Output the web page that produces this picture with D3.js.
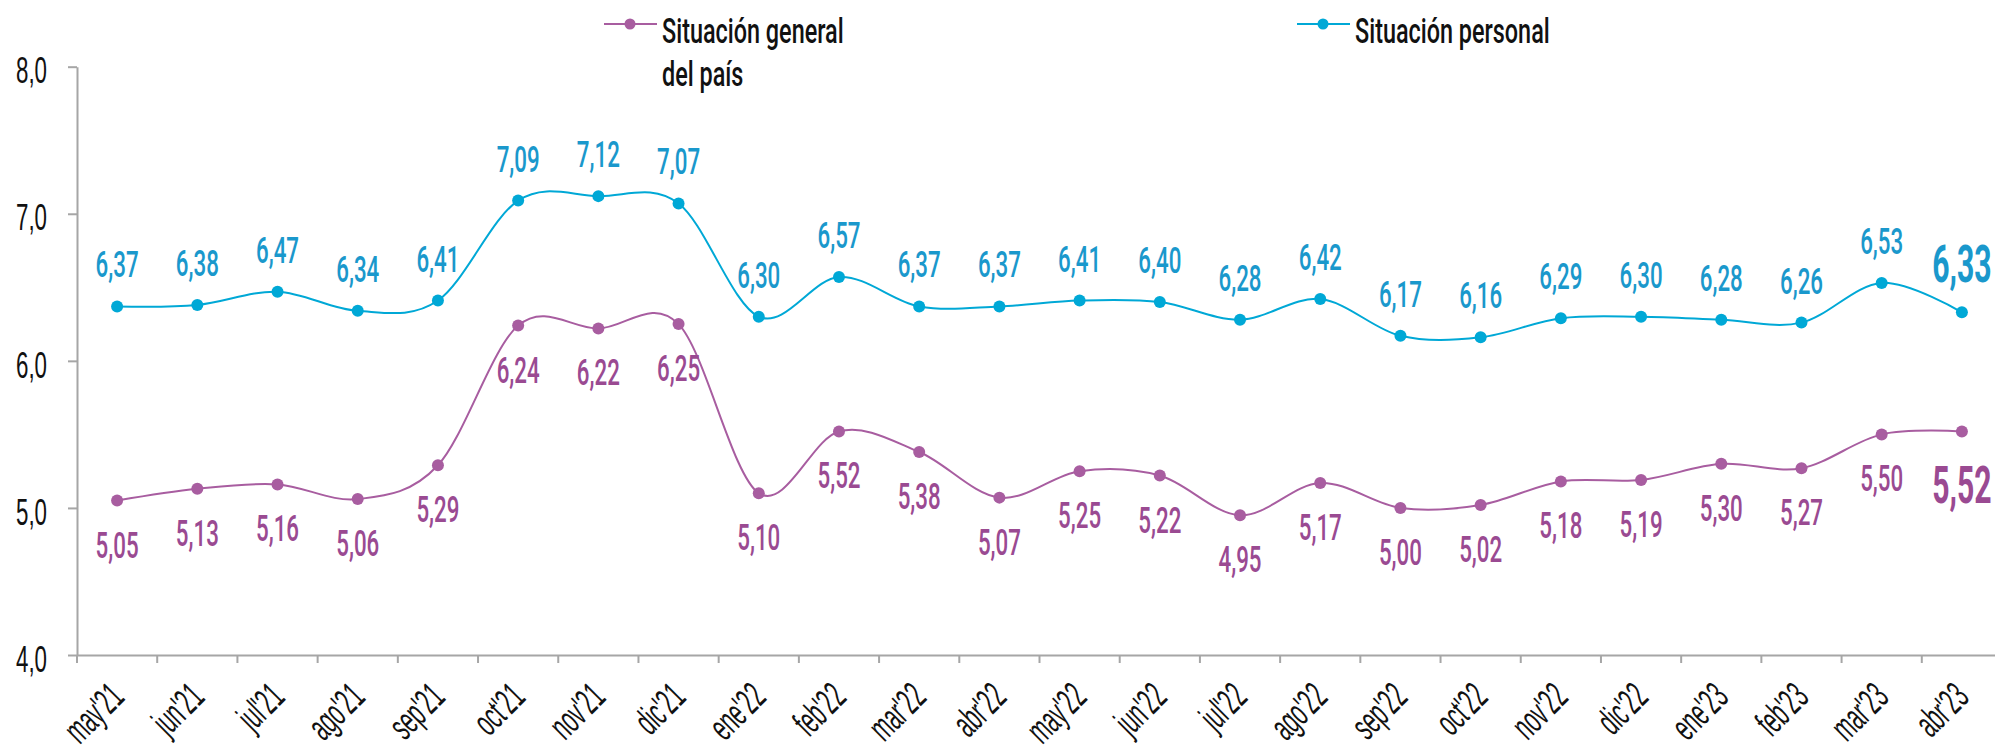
<!DOCTYPE html>
<html>
<head>
<meta charset="utf-8">
<script src="https://cdn.jsdelivr.net/npm/d3@7"></script>
<style>
  html, body { margin: 0; padding: 0; background: #fff; }
  svg { display: block; font-family: Roboto, 'Liberation Sans', sans-serif; }
</style>
</head>
<body>
<svg id="chart" width="1995" height="751"></svg>
<script>
const months = ["may'21", "jun'21", "jul'21", "ago'21", "sep'21", "oct'21", "nov'21", "dic'21",
  "ene'22", "feb'22", "mar'22", "abr'22", "may'22", "jun'22", "jul'22", "ago'22", "sep'22",
  "oct'22", "nov'22", "dic'22", "ene'23", "feb'23", "mar'23", "abr'23"]
const personal = [6.37, 6.38, 6.47, 6.34, 6.41, 7.09, 7.12, 7.07, 6.30, 6.57, 6.37, 6.37,
  6.41, 6.40, 6.28, 6.42, 6.17, 6.16, 6.29, 6.30, 6.28, 6.26, 6.53, 6.33]
const general = [5.05, 5.13, 5.16, 5.06, 5.29, 6.24, 6.22, 6.25, 5.10, 5.52, 5.38, 5.07,
  5.25, 5.22, 4.95, 5.17, 5.00, 5.02, 5.18, 5.19, 5.30, 5.27, 5.50, 5.52]
const yTicks = [4, 5, 6, 7, 8]
const seriesNames = ['Situación general|del país', 'Situación personal']

const blue = '#00a8d6'
const blueText = '#1a98cc'
const purple = '#a85da0'
const purpleText = '#9a4a92'
const axisGrey = '#a6a6a6'
const squeeze = 'scale(0.62,1)'

const fmt = (v) => v.toFixed(2).replace('.', ',')

const svg = d3.select('#chart')

const x = d3.scaleBand().domain(months).range([77, 2002])
const y = d3.scaleLinear().domain([4, 8]).range([655, 66.7])
const cx = (i) => x(months[i]) + x.bandwidth() / 2

// y axis
const yAxis = svg.append('g')
  .attr('transform', 'translate(77,0)')
  .call(d3.axisLeft(y).tickValues(yTicks).tickSize(9).tickSizeOuter(0)
    .tickFormat((d) => d.toFixed(1).replace('.', ',')))
yAxis.select('.domain').attr('stroke', axisGrey).attr('stroke-width', 2)
yAxis.selectAll('.tick line').attr('stroke', axisGrey).attr('stroke-width', 2)
yAxis.selectAll('.tick text')
  .attr('x', null)
  .attr('dy', '0.45em')
  .attr('transform', `translate(-30,0) ${squeeze}`)
  .attr('font-size', 36)
  .attr('font-weight', 500)
  .attr('fill', '#111')

// x axis, ticks sit on band edges
const xAxis = svg.append('g')
  .attr('transform', 'translate(0,655)')
  .call(d3.axisBottom(x).tickSize(0).tickSizeOuter(0))
xAxis.select('.domain').attr('stroke', axisGrey).attr('stroke-width', 2)
xAxis.selectAll('.tick text')
  .attr('y', null)
  .attr('dy', null)
  .attr('text-anchor', 'end')
  .attr('transform', 'translate(9,44) rotate(-45) scale(0.54,1)')
  .attr('font-size', 38)
  .attr('font-weight', 500)
  .attr('fill', '#111')

svg.append('g').selectAll('line')
  .data(months)
  .enter().append('line')
  .attr('x1', (d) => x(d))
  .attr('x2', (d) => x(d))
  .attr('y1', 655)
  .attr('y2', 663)
  .attr('stroke', axisGrey)
  .attr('stroke-width', 2)

const line = d3.line()
  .x((d, i) => cx(i))
  .y((d) => y(d))
  .curve(d3.curveCatmullRom.alpha(0))

function drawSeries(values, color, textColor, above) {
  const g = svg.append('g')
  g.append('path')
    .datum(values)
    .attr('d', line)
    .attr('fill', 'none')
    .attr('stroke', color)
    .attr('stroke-width', 2)

  g.selectAll('circle')
    .data(values)
    .enter().append('circle')
    .attr('cx', (d, i) => cx(i))
    .attr('cy', (d) => y(d))
    .attr('r', 6)
    .attr('fill', color)

  const last = values.length - 1
  g.selectAll('text')
    .data(values)
    .enter().append('text')
    .attr('text-anchor', 'middle')
    .attr('fill', textColor)
    .attr('font-size', (d, i) => i === last ? 52 : 36)
    .attr('font-weight', (d, i) => i === last ? 'bold' : 500)
    .attr('transform', (d, i) => {
      let dy = above ? -29 : 57
      if (i === last) dy = above ? -30 : 72
      return `translate(${cx(i)},${y(d) + dy}) ${i === last ? 'scale(0.58,1)' : squeeze}`
    })
    .text((d) => fmt(d))
}

drawSeries(personal, blue, blueText, true)
drawSeries(general, purple, purpleText, false)

// legend
const legendItems = [
  { name: seriesNames[0], color: purple, x: 604 },
  { name: seriesNames[1], color: blue, x: 1297 }
]
const legend = svg.append('g').selectAll('g')
  .data(legendItems)
  .enter().append('g')
  .attr('transform', (d) => `translate(${d.x},24)`)

legend.append('line')
  .attr('x1', 0)
  .attr('x2', 53)
  .attr('stroke', (d) => d.color)
  .attr('stroke-width', 2)

legend.append('circle')
  .attr('cx', 26)
  .attr('r', 5.5)
  .attr('fill', (d) => d.color)

legend.each(function (d) {
  d.name.split('|').forEach((t, k) => {
    d3.select(this).append('text')
      .attr('transform', `translate(58,${19 + k * 43}) scale(0.65,1)`)
      .attr('font-size', 36)
      .attr('font-weight', 500)
      .attr('fill', '#111')
      .text(t)
  })
})
</script>
</body>
</html>
